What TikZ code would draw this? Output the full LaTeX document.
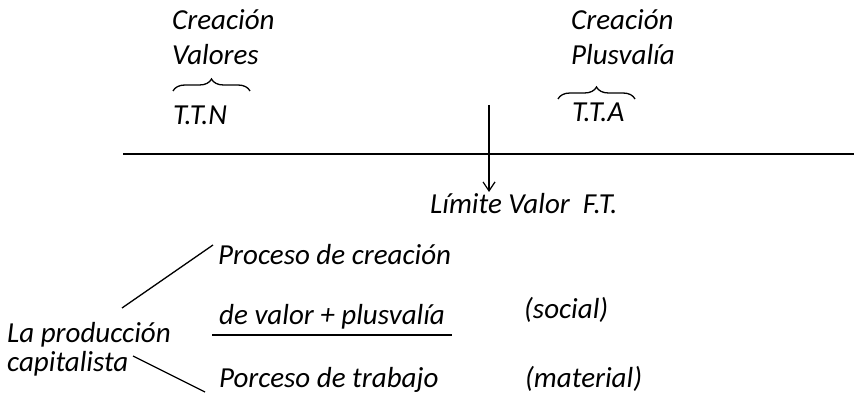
\documentclass[tikz,border=0pt]{standalone}
\usepackage{fontspec}
\setmainfont{Carlito}
\usetikzlibrary{arrows.meta,decorations.pathreplacing}
\begin{document}
\begin{tikzpicture}[x=1pt,y=-1pt,
  txt/.style={anchor=base west,inner sep=0pt,font=\fontsize{29}{35}\selectfont\itshape},
  llave/.style={decorate,decoration={brace,amplitude=12pt},line width=1.3pt}]
\useasboundingbox (0,0) rectangle (854,395);

% arriba
\node[txt] (crea1) at (172,30) {Creación};
\node[txt] (valores) at (172,65) {Valores};
\node[txt] (ttn) at (173,125) {T.T.N};
\node[txt] (crea2) at (571,30) {Creación};
\node[txt] (plusv) at (571,65) {Plusvalía};
\node[txt] (tta) at (572,122) {T.T.A};

\draw[llave] (173,91) -- (250,91);
\draw[llave] (558,99) -- (635,99);

\draw[line width=1.6pt] (123,154) -- (854,154);

\node[txt] (limite) at (430,214) {Límite Valor\ \ F.T.};
\coordinate (flecha) at (489,105);
\draw[line width=1.2pt,-{Straight Barb[length=9pt,width=12pt]}] (flecha) -- (489,192);

% abajo
\node[txt] (proceso) at (218,265) {Proceso de creación};
\node[txt] (devalor) at (219,325) {de valor + plusvalía};
\node[txt] (social) at (524,319) {(social)};
\node[txt] (prod) at (7,342) {La producción};
\node[txt] (capital) at (7,371) {capitalista};
\node[txt] (trabajo) at (219,387) {Porceso de trabajo};
\node[txt] (material) at (525,387) {(material)};

\draw[line width=1.4pt] (212,335) -- (452,335);

\coordinate (r1) at (122,308);
\coordinate (r2) at (213,245);
\coordinate (r3) at (133,356);
\coordinate (r4) at (205,392);
\draw[line width=1.3pt] (r1) -- (r2);
\draw[line width=1.3pt] (r3) -- (r4);

\end{tikzpicture}
\end{document}
